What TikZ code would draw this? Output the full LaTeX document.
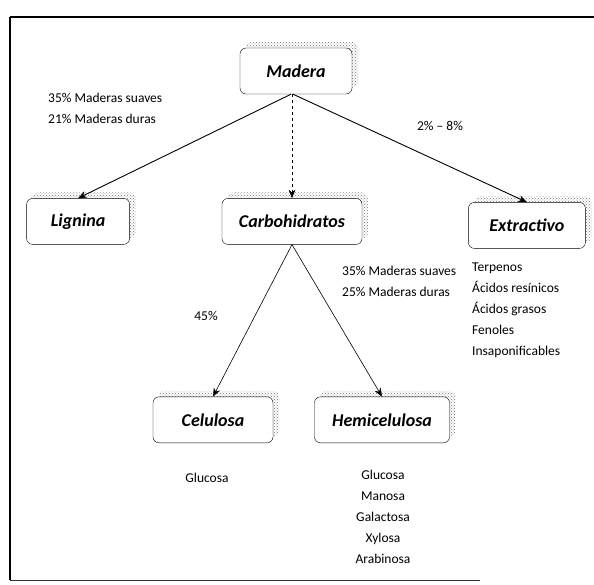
\documentclass[tikz,border=0pt]{standalone}
\usepackage{fontspec}
\setmainfont{Carlito}
\usepackage{tikz}
\usetikzlibrary{arrows.meta, positioning, shadows, patterns}

\begin{document}
\begin{tikzpicture}[
    x=1pt, y=-1pt,
    module/.style={rectangle, rounded corners=6pt, minimum height=46pt, draw=black, thin, fill=white,
        font=\fontsize{18}{20}\selectfont\bfseries\itshape,
        general shadow={pattern=crosshatch dots, pattern color=black!55, shadow xshift=6pt, shadow yshift=6pt}},
    label/.style={font=\fontsize{13.5}{21}\selectfont, inner sep=0pt},
    arrow/.style={-{Stealth[length=3mm, width=2.4mm]}, line width=0.9pt},
    thinarrow/.style={-{Stealth[length=3mm, width=2.4mm]}, line width=0.6pt},
    dasharrow/.style={-{Stealth[length=3mm, width=2.4mm]}, line width=0.6pt, dashed}
]
\useasboundingbox (0,0) rectangle (594,584);

% Frame
\draw[line width=2pt] (10,17) -- (594,17);
\draw[line width=1.5pt] (10,17) -- (10,580);
\draw[line width=1pt, black!80] (10,580) -- (480,580);

% Main modules
\node[module, minimum width=112pt] (madera) at (296,71) {Madera};
\node[module, minimum width=140pt, below=104pt of madera, xshift=-4pt] (carbo) {Carbohidratos};
\node[module, minimum width=103pt, left=92pt of carbo] (lignina) {Lignina};
\node[module, minimum width=117pt, right=106pt of carbo, yshift=-4pt] (extract) {Extractivo};

% Carbohydrate modules
\node[module, minimum width=120pt, below=152pt of carbo, xshift=-79pt] (celulosa) {Celulosa};
\node[module, minimum width=135pt, below=152pt of carbo, xshift=90pt] (hemi) {Hemicelulosa};

% Arrows
\draw[arrow] ([xshift=-5pt]madera.south) -- (lignina.north);
\draw[dasharrow] ([xshift=-4pt]madera.south) -- (carbo.north);
\draw[arrow] ([xshift=-3pt]madera.south) -- (extract.north);
\draw[thinarrow] (carbo.south) -- (celulosa.north);
\draw[thinarrow] (carbo.south) -- (hemi.north);

% Labels
\node[label, anchor=west, align=left] (lbllig) at (48,108) {35\% Maderas suaves\\21\% Maderas duras};
\node[label] (lblext) at (440,126) {2\% -- 8\%};
\node[label] (lblcel) at (206,316) {45\%};
\node[label, anchor=west, align=left] (lblhemi) at (342,281) {35\% Maderas suaves\\25\% Maderas duras};
\node[label, anchor=north west, align=left] (listext) at (472,263) {Terpenos\\Ácidos resínicos\\Ácidos grasos\\Fenoles\\Insaponificables};
\node[label] (listcel) at (207,478) {Glucosa};
\node[label, anchor=north, align=center] (listhemi) at (383,470) {Glucosa\\Manosa\\Galactosa\\Xylosa\\Arabinosa};

\end{tikzpicture}
\end{document}
